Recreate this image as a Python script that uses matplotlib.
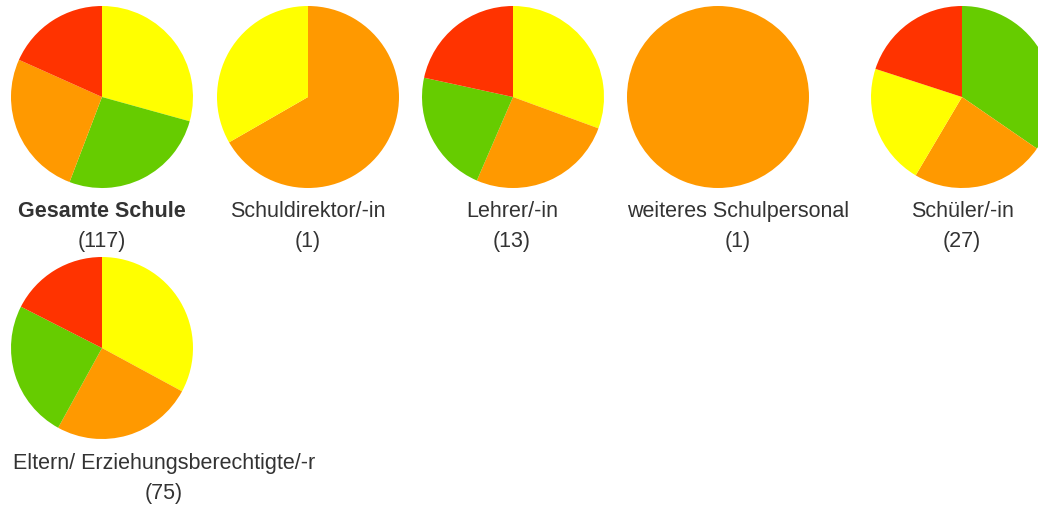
import matplotlib.pyplot as plt

plt.rcParams['font.family'] = ['Liberation Sans', 'DejaVu Sans']

# Gruppen und Anteile (im Uhrzeigersinn ab 12 Uhr)
groups = ["Gesamte Schule", "Schuldirektor/-in", "Lehrer/-in",
          "weiteres Schulpersonal", "Schüler/-in",
          "Eltern/ Erziehungsberechtigte/-r"]
counts = [117, 1, 13, 1, 27, 75]

YELLOW = "#FFFF00"
GREEN = "#66CC00"
ORANGE = "#FF9900"
RED = "#FF3300"

shares = [
    [29.3, 26.5, 25.9, 18.3],
    [66.7, 33.3],
    [30.6, 25.9, 21.9, 21.6],
    [100.0],
    [34.6, 23.9, 21.5, 20.0],
    [32.9, 25.1, 24.5, 17.5],
]
slice_colors = [
    [YELLOW, GREEN, ORANGE, RED],
    [ORANGE, YELLOW],
    [YELLOW, ORANGE, GREEN, RED],
    [ORANGE],
    [GREEN, ORANGE, YELLOW, RED],
    [YELLOW, ORANGE, GREEN, RED],
]

W, H = 1038, 505
fig = plt.figure(figsize=(W / 100, H / 100), dpi=100)

# pixel layout: pie centre, label centre
pie_pos = [(102, 97), (308, 97), (513, 97), (718, 97), (962, 97), (102, 348)]
label_x = [102, 308, 512, 738, 962, 164]
label_y = [212, 212, 212, 212, 212, 463]
R = 91

for i, g in enumerate(groups):
    cx, cy = pie_pos[i]
    ax = fig.add_axes([(cx - R) / W, 1 - (cy + R) / H, 2 * R / W, 2 * R / H])
    ax.pie(shares[i], colors=slice_colors[i], startangle=90, counterclock=False,
           wedgeprops=dict(linewidth=0))
    ax.set_aspect('equal')
    ax.set_xlim(-1, 1)
    ax.set_ylim(-1, 1)
    ax.axis('off')

    lx, ly = label_x[i], label_y[i]
    fig.text(lx / W, 1 - ly / H, g, ha='center', va='center', fontsize=15.5,
             color='#333333', fontweight='bold' if i == 0 else 'normal')
    fig.text(lx / W, 1 - (ly + 30) / H, "(%d)" % counts[i], ha='center', va='center',
             fontsize=15.5, color='#333333')

fig.savefig("out.png", dpi=100)
